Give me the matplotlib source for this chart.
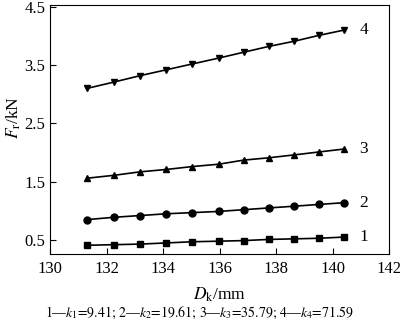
import numpy as np
import matplotlib
matplotlib.use("Agg")
import matplotlib.pyplot as plt

plt.rcParams['font.family'] = ['Liberation Serif', 'DejaVu Serif']
plt.rcParams['mathtext.fontset'] = 'stix'

# D_k values (mm)
dk = [131.31, 132.27, 133.2, 134.12, 135.04, 135.97, 136.85, 137.74, 138.65, 139.52, 140.4]

# F_r values (kN) for each stiffness
fr1 = [0.41, 0.42, 0.43, 0.45, 0.47, 0.48, 0.49, 0.51, 0.52, 0.53, 0.55]
fr2 = [0.85, 0.89, 0.92, 0.95, 0.97, 0.99, 1.02, 1.05, 1.08, 1.11, 1.14]
fr3 = [1.56, 1.61, 1.67, 1.71, 1.76, 1.80, 1.87, 1.91, 1.96, 2.01, 2.06]
fr4 = [3.10, 3.21, 3.32, 3.42, 3.52, 3.62, 3.72, 3.82, 3.91, 4.01, 4.10]
k_vals = ['9.41', '19.61', '35.79', '71.59']

series = [fr1, fr2, fr3, fr4]
labels = ['1', '2', '3', '4']
markers = ['s', 'o', '^', 'v']

fig = plt.figure(figsize=(4, 3.28), dpi=100)
ax = fig.add_axes([0.125, 0.2256, 0.8475, 0.759])

for y, lab, m in zip(series, labels, markers):
    ax.plot(dk, y, color='black', lw=1.2, marker=m, ms=5)
    ax.text(dk[-1] + 0.55, y[-1], lab, fontsize=12.5, va='center', ha='left')

ax.set_xlim(130, 142)
ax.set_ylim(0.26, 4.53)
ax.set_xticks(np.arange(130, 143, 2))
ax.set_yticks([0.5, 1.5, 2.5, 3.5, 4.5])
ax.tick_params(direction='in', labelsize=12, length=4, width=0.8)
ax.tick_params(axis='x', pad=5)
for s in ax.spines.values():
    s.set_linewidth(0.8)

ax.set_xlabel(r'$D_{\mathrm{k}}$/mm', fontsize=12.5, labelpad=6)
ax.set_ylabel(r'$F_{\mathrm{r}}$/kN', fontsize=12.5)
ax.yaxis.set_label_coords(-0.08, 0.55)

parts = [r'%s—$k_{%s}$=%s' % (lab, lab, kv) for lab, kv in zip(labels, k_vals)]
caption = '; '.join(parts)
fig.text(0.5, 0.046, caption, ha='center', va='center', fontsize=10,
         family='STIXGeneral')

fig.savefig('out.png', dpi=100)
